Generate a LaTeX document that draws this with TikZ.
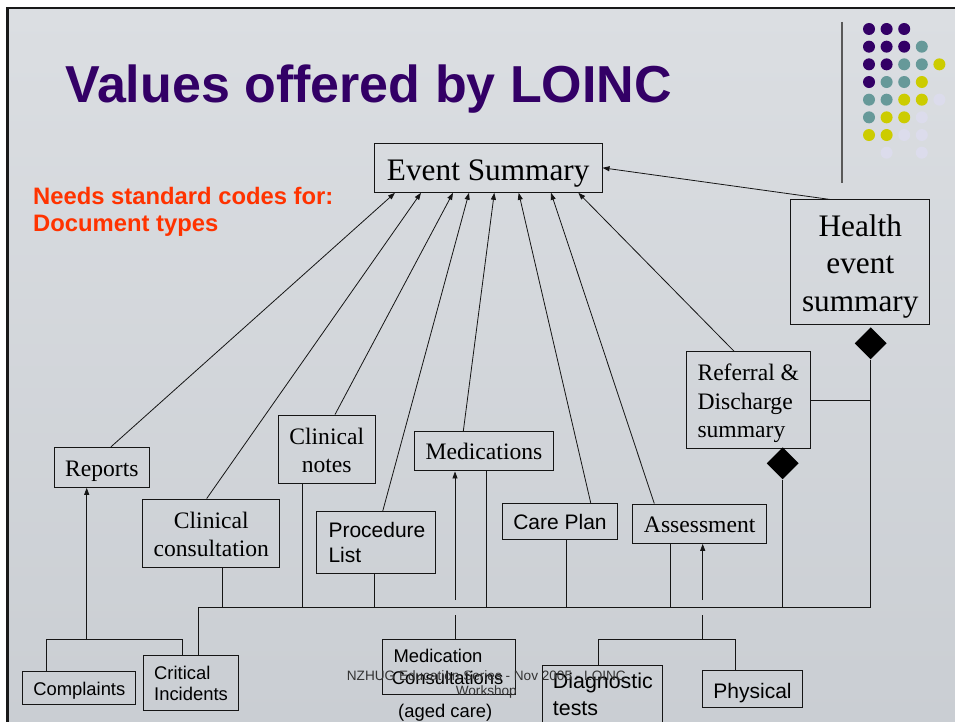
\documentclass[tikz,border=0pt]{standalone}
\usepackage{fontspec}
\setmainfont{Liberation Serif}
\setsansfont{Liberation Sans}
\usetikzlibrary{arrows.meta,shapes.geometric}
\definecolor{titlepurple}{HTML}{330066}
\definecolor{needred}{HTML}{FF3300}
\definecolor{dotP}{HTML}{330066}
\definecolor{dotT}{HTML}{669999}
\definecolor{dotY}{HTML}{CCCC00}
\definecolor{dotL}{HTML}{DCDCEC}
\definecolor{bgtop}{HTML}{DBDEE2}
\definecolor{bgbot}{HTML}{CACED3}
\definecolor{linecol}{HTML}{151515}
\definecolor{footcol}{HTML}{333333}
\begin{document}
\begin{tikzpicture}[x=1pt,y=-1pt,
  box/.style={draw=linecol, line width=1pt, inner sep=0pt},
  sert/.style={inner sep=0pt, anchor=base, text=black, font=\fontsize{23.6}{28}\selectfont},
  bigt/.style={inner sep=0pt, anchor=base, text=black, font=\fontsize{31.3}{37}\selectfont},
  sant/.style={inner sep=0pt, anchor=base west, text=black, font=\sffamily\fontsize{21}{25}\selectfont},
  smallt/.style={inner sep=0pt, anchor=base west, text=black, font=\sffamily\fontsize{18.4}{22}\selectfont},
  conn/.style={draw=linecol, line width=0.8pt},
  arr/.style={conn, -{Triangle[length=7pt,width=5pt]}},
  dia/.style={diamond, fill=black, inner sep=0pt, minimum width=32pt, minimum height=32pt},
  needt/.style={inner sep=0pt, anchor=base west, text=needred, font=\sffamily\bfseries\fontsize{23.8}{27}\selectfont},
  foot/.style={inner sep=0pt, text=footcol, font=\sffamily\fontsize{13.6}{16}\selectfont}]
\useasboundingbox (0,0) rectangle (955,722);
\clip (0,0) rectangle (955,722);
% background and frame
\fill[white] (0,0) rectangle (955,722);
\shade[top color=bgtop, bottom color=bgbot] (9,9.5) rectangle (955,722);
\fill[black!90] (6,7) rectangle (955,9.5);
\fill[black!90] (6,7) rectangle (9,722);
% logo
\draw[line width=1.2pt, draw=black!65] (842,22) -- (842,183);
\foreach \c/\r/\col in {0/0/dotP,1/0/dotP,2/0/dotP,
  0/1/dotP,1/1/dotP,2/1/dotP,3/1/dotT,
  0/2/dotP,1/2/dotP,2/2/dotT,3/2/dotT,4/2/dotY,
  0/3/dotP,1/3/dotT,2/3/dotT,3/3/dotY,
  0/4/dotT,1/4/dotT,2/4/dotY,3/4/dotY,4/4/dotL,
  0/5/dotT,1/5/dotY,2/5/dotY,3/5/dotL,
  0/6/dotY,1/6/dotY,2/6/dotL,3/6/dotL,
  1/7/dotL,3/7/dotL}
  {\fill[\col] (869+\c*17.6, 29+\r*17.67) circle (6);}
% title and note
\node[inner sep=0pt, anchor=base west, text=titlepurple, font=\sffamily\bfseries\fontsize{52}{60}\selectfont] (title) at (65,103) {Values offered by LOINC};
\node[needt] (need1) at (33,204.3) {Needs standard codes for:};
\node[needt] (need2) at (33,231.7) {Document types};
% boxes
\node[box, minimum width=227.7pt, minimum height=49pt] (ES) at (488.2,167.8) {};
\node[box, minimum width=139.3pt, minimum height=124.7pt] (HES) at (860.3,262.3) {};
\node[box, minimum width=95pt, minimum height=40pt] (Reports) at (101.8,467.3) {};
\node[box, minimum width=96.7pt, minimum height=68.3pt] (CNotes) at (326.7,449.2) {};
\node[box, minimum width=137.3pt, minimum height=68.3pt] (CCons) at (211.3,533.2) {};
\node[box, minimum width=119.3pt, minimum height=61.6pt] (Proc) at (376.3,542.5) {};
\node[box, minimum width=139.4pt, minimum height=39.3pt] (Meds) at (484,451.3) {};
\node[box, minimum width=115.4pt, minimum height=36pt] (Care) at (560,521.3) {};
\node[box, minimum width=134pt, minimum height=39.3pt] (Assess) at (699.7,523.7) {};
\node[box, minimum width=124pt, minimum height=96.6pt] (Ref) at (748.7,400) {};
\node[box, minimum width=113.3pt, minimum height=33.3pt] (Compl) at (79.3,687.7) {};
\node[box, minimum width=95pt, minimum height=55.4pt] (CritInc) at (190.8,683) {};
\node[box, minimum width=133.4pt, minimum height=55pt] (MedCons) at (449,666.8) {};
\node[box, minimum width=120pt, minimum height=80pt] (Diag) at (602.3,705.7) {};
\node[box, minimum width=99.6pt, minimum height=36.7pt] (Phys) at (752.5,689.3) {};
\node[dia] (d1) at (870.7,343.3) {};
\node[dia] (d2) at (782.7,463.3) {};
% texts
\node[bigt] (ESt) at (488.2,180.7) {Event Summary};
\node[bigt] (HESt1) at (860.3,236) {Health};
\node[bigt] (HESt2) at (860.3,273.3) {event};
\node[bigt] (HESt3) at (860.3,311.7) {summary};
\node[sert] (Rept) at (101.8,476) {Reports};
\node[sert] (CNt1) at (326.7,444.3) {Clinical};
\node[sert] (CNt2) at (326.7,472.7) {notes};
\node[sert] (CCt1) at (211.3,528.3) {Clinical};
\node[sert] (CCt2) at (211.3,556.7) {consultation};
\node[sant] (Prt1) at (328.3,537.7) {Procedure};
\node[sant] (Prt2) at (328.3,562.7) {List};
\node[sert] (Medt) at (484,459.3) {Medications};
\node[sant, anchor=base] (Cart) at (560,529.3) {Care Plan};
\node[sert] (Asst) at (699.7,532.3) {Assessment};
\node[sert, anchor=base west] (Reft1) at (697.3,380) {Referral \&};
\node[sert, anchor=base west] (Reft2) at (697.3,409.3) {Discharge};
\node[sert, anchor=base west] (Reft3) at (697.3,437.3) {summary};
\node[smallt, anchor=base] (Comt) at (79.3,695) {Complaints};
\node[smallt] (CIt1) at (154,679) {Critical};
\node[smallt] (CIt2) at (154,700.7) {Incidents};
\node[smallt] (MCt1) at (393.3,662.7) {Medication};
\node[smallt] (MCt2) at (391.7,684.3) {Consultations};
\node[smallt] (MCt3) at (398,717.7) {(aged care)};
\node[sant, font=\sffamily\fontsize{21.4}{25}\selectfont] (Dgt1) at (552.7,688.3) {Diagnostic};
\node[sant, font=\sffamily\fontsize{21.4}{25}\selectfont] (Dgt2) at (552.7,715) {tests};
\node[sant, anchor=base] (Pht) at (752.5,698.3) {Physical};
\node[foot, anchor=base west] (foot1) at (346.7,680) {NZHUG Education Series - Nov 2005 - LOINC};
\node[foot, anchor=base] (foot2) at (486.3,695.7) {Workshop};
% arrows to Event Summary
\draw[arr] (111,0 |- Reports.north) -- (395,0 |- ES.south);
\draw[arr] (206.7,0 |- CCons.north) -- (421,0 |- ES.south);
\draw[arr] (335,0 |- CNotes.north) -- (453,0 |- ES.south);
\draw[arr] (382.7,0 |- Proc.north) -- (469,0 |- ES.south);
\draw[arr] (463.3,0 |- Meds.north) -- (494.3,0 |- ES.south);
\draw[arr] (590.7,0 |- Care.north) -- (518.7,0 |- ES.south);
\draw[arr] (654.3,0 |- Assess.north) -- (551,0 |- ES.south);
\draw[arr] (734,0 |- Ref.north) -- (578.3,0 |- ES.south);
\draw[arr] (830,0 |- HES.north) -- (ES.east);
% bus
\coordinate (busL) at (198.3,607.3);
\coordinate (busR) at (870.7,607.3);
\draw[conn] (busL |- CritInc.north) -- (busL) -- (busR);
\draw[conn] (222.7,0 |- CCons.south) -- (222.7,0 |- busL);
\draw[conn] (302.7,0 |- CNotes.south) -- (302.7,0 |- busL);
\draw[conn] (374.3,0 |- Proc.south) -- (374.3,0 |- busL);
\draw[conn] (486.7,0 |- Meds.south) -- (486.7,0 |- busL);
\draw[conn] (566.7,0 |- Care.south) -- (566.7,0 |- busL);
\draw[conn] (670.7,0 |- Assess.south) -- (670.7,0 |- busL);
\draw[conn] (d2.south) -- (d2.south |- busL);
\draw[conn] (d1.south) -- (busR);
\draw[conn] (Ref.east) -- (Ref.east -| d1.south);
% medication consultations
\draw[conn] (455,0 |- MedCons.north) -- (455,615);
\draw[arr] (455,600) -- (455,0 |- Meds.south);
% assessment group
\coordinate (ja) at (702.7,639.3);
\draw[conn] (702.7,615) -- (ja);
\draw[arr] (702.7,600) -- (702.7,0 |- Assess.south);
\draw[conn] (598.3,0 |- Diag.north) -- (598.3,639.3) -- (735,639.3) -- (735,0 |- Phys.north);
% reports group
\coordinate (jr) at (86.7,639.3);
\draw[arr] (jr) -- (86.7,0 |- Reports.south);
\draw[conn] (46,0 |- Compl.north) -- (46,639.3) -- (182.7,639.3) -- (182.7,0 |- CritInc.north);
\end{tikzpicture}
\end{document}
